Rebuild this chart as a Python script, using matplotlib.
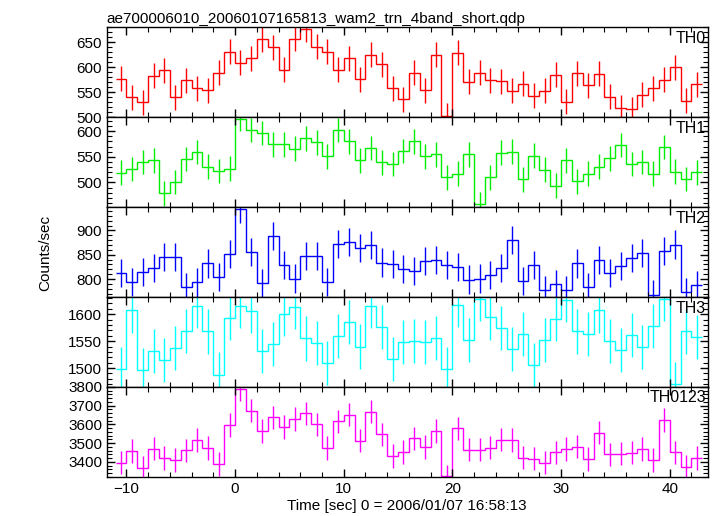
import numpy as np
import matplotlib
matplotlib.use("Agg")
import matplotlib.pyplot as plt
from matplotlib.ticker import MultipleLocator

plt.rcParams['font.family'] = ['Liberation Sans', 'DejaVu Sans']

# bin edges (1 s bins) and rates
t_start = -11
t_stop = 43

th0 = [577, 540, 530, 583, 594, 540, 574, 558, 554, 589, 631, 609, 618, 656, 640, 595, 657, 676,
       641, 631, 595, 618, 576, 625, 606, 558, 536, 589, 554, 625, 503, 629, 571, 589, 574, 572,
       553, 567, 543, 553, 585, 531, 588, 564, 587, 541, 519, 516, 545, 558, 575, 600, 533, 566]
th1 = [519, 526, 540, 543, 479, 501, 546, 559, 531, 522, 527, 624, 602, 596, 574, 574, 566, 586,
       578, 551, 602, 580, 543, 567, 539, 536, 561, 580, 551, 555, 510, 517, 555, 458, 510, 558,
       560, 506, 552, 525, 494, 543, 502, 517, 531, 547, 573, 536, 540, 517, 569, 521, 507, 520]
th2 = [812, 794, 814, 823, 845, 845, 783, 793, 832, 805, 852, 945, 856, 792, 889, 829, 801, 848,
       847, 794, 872, 876, 864, 870, 834, 831, 821, 817, 837, 840, 829, 825, 799, 801, 808, 823,
       880, 796, 829, 777, 790, 778, 832, 783, 840, 812, 827, 843, 854, 768, 857, 871, 774, 788]
th3 = [1499, 1607, 1496, 1532, 1515, 1537, 1569, 1616, 1568, 1488, 1593, 1615, 1606, 1532, 1545,
       1600, 1613, 1555, 1546, 1509, 1560, 1585, 1540, 1616, 1576, 1517, 1548, 1551, 1548, 1556,
       1498, 1617, 1552, 1628, 1594, 1574, 1535, 1563, 1505, 1552, 1591, 1627, 1568, 1564, 1607,
       1550, 1533, 1561, 1539, 1578, 1628, 1470, 1568, 1557]
th0123 = [3395, 3458, 3367, 3470, 3420, 3410, 3462, 3516, 3474, 3388, 3596, 3788, 3672, 3564,
          3637, 3586, 3628, 3658, 3601, 3474, 3617, 3651, 3512, 3667, 3546, 3431, 3452, 3526,
          3479, 3564, 3323, 3578, 3464, 3464, 3475, 3518, 3516, 3422, 3416, 3395, 3450, 3468,
          3480, 3415, 3555, 3440, 3443, 3449, 3468, 3410, 3623, 3450, 3372, 3420]

# typical 1-sigma error per band
err_th0 = 25
err_th1 = 24
err_th2 = 29
err_th3 = 41
err_th0123 = 62

names = ['TH0', 'TH1', 'TH2', 'TH3', 'TH0123']
series = [th0, th1, th2, th3, th0123]
errors = [err_th0, err_th1, err_th2, err_th3, err_th0123]
colors = ['#ff0000', '#00ee00', '#0000ff', '#00ffff', '#ff00ff']
ylims = [(500, 680), (452, 627), (763, 948), (1465, 1632), (3320, 3800)]
majors = [50, 50, 50, 50, 100]
minors = [10, 10, 10, 10, 20]

edges = np.arange(t_start, t_stop + 1)
centers = edges[:-1] + 0.5

fig, axes = plt.subplots(5, 1, sharex=True, figsize=(7.17, 5.16), dpi=100)
fig.subplots_adjust(left=0.149, right=0.987, top=0.947, bottom=0.076, hspace=0)

for ax, name, y, e, c, yl, mj, mn in zip(axes, names, series, errors, colors, ylims, majors, minors):
    y = np.array(y)
    ax.stairs(y, edges, baseline=None, color=c, lw=1.0)
    ax.errorbar(centers, y, yerr=e, fmt='none', ecolor=c, elinewidth=1.0)
    ax.set_ylim(*yl)
    ax.set_xlim(-11.8, 43.5)
    ax.yaxis.set_major_locator(MultipleLocator(mj))
    ax.yaxis.set_minor_locator(MultipleLocator(mn))
    ax.xaxis.set_major_locator(MultipleLocator(10))
    ax.xaxis.set_minor_locator(MultipleLocator(2))
    ax.tick_params(which='both', direction='in', top=True, right=True, labelsize=11)
    ax.tick_params(which='major', length=6, width=1)
    ax.tick_params(which='minor', length=3.5, width=0.8)
    ax.text(0.997, 0.96, name, transform=ax.transAxes, ha='right', va='top', fontsize=11.5)
    for s in ax.spines.values():
        s.set_linewidth(1.0)

axes[-1].set_xlabel('Time [sec] 0 = 2006/01/07 16:58:13', fontsize=11, labelpad=2.5)
fig.text(0.063, 0.51, 'Counts/sec', rotation=90, ha='center', va='center', fontsize=11)
axes[0].set_title('ae700006010_20060107165813_wam2_trn_4band_short.qdp', loc='left',
                  fontsize=11, pad=3)

fig.savefig('out.png', dpi=100)
